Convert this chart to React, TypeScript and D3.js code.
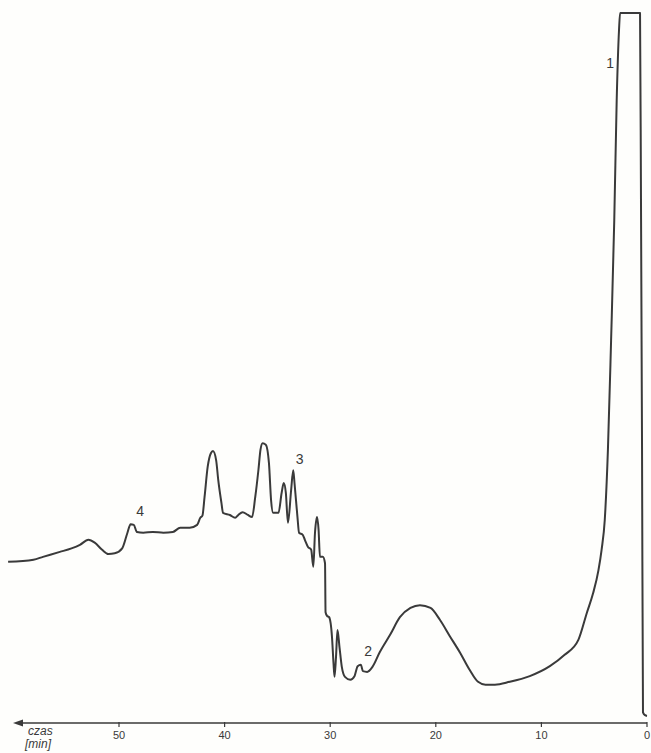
import React, { useRef, useEffect } from 'react';
import * as d3 from 'd3';

// czas retencji [min] (malejąco, od lewej do prawej)
const times = [
  60.5, 58.1, 57.2, 55.6, 54.5, 53.7, 52.9, 52.3, 51.6, 51.0, 50.4, 49.7, 49.2, 48.9, 48.6, 48.3,
  47.7, 46.8, 45.8, 44.9, 44.2, 43.3, 42.6, 42.3, 42.1, 41.9, 41.6, 41.3, 41.1, 40.8, 40.6, 40.3,
  40.15, 39.5, 39.0, 38.7, 38.3, 37.8, 37.4, 37.1, 36.8, 36.6, 36.4, 36.1, 35.8, 35.6, 35.4, 34.9,
  34.6, 34.4, 34.2, 34.0, 33.7, 33.5, 33.38, 33.1, 32.95, 32.6, 32.4, 32.1, 31.8, 31.6, 31.44, 31.25,
  31.1, 30.97, 30.7, 30.49, 30.44, 30.3, 30.1, 29.83, 29.69, 29.59, 29.45, 29.31, 29.12, 28.9, 28.6, 28.1,
  27.7, 27.4, 27.1, 26.9, 26.5, 26.0, 25.3, 24.3, 23.4, 22.4, 21.5, 20.5, 19.6, 18.7, 17.7, 16.8,
  16.0, 15.3, 14.4, 13.0, 11.1, 9.2, 7.8, 6.5, 5.7, 5.1, 4.6, 4.3, 4.0, 3.7, 3.4, 3.1,
  2.87, 2.65, 2.55, 0.66, 0.57, 0.47, 0.38, 0.19, 0.0,
];

// sygnał detektora [j.u.]
const signal = [
  22.7, 23.0, 23.4, 24.1, 24.6, 25.1, 25.8, 25.4, 24.4, 23.8, 23.9, 24.6, 26.8, 28.0, 27.9, 26.9,
  26.8, 26.9, 26.8, 26.9, 27.5, 27.5, 27.9, 28.9, 29.2, 31.8, 36.1, 38.0, 38.3, 37.0, 34.2, 31.0,
  29.6, 29.3, 28.9, 29.3, 29.7, 29.3, 29.0, 31.8, 35.6, 38.5, 39.4, 39.2, 36.6, 31.4, 29.6, 29.6,
  32.4, 33.8, 32.4, 28.2, 32.8, 35.6, 33.8, 29.0, 26.8, 26.5, 25.8, 24.8, 24.4, 22.0, 26.8, 29.0,
  27.2, 23.4, 23.4, 22.5, 15.6, 15.1, 14.9, 12.1, 8.5, 6.5, 9.3, 13.1, 10.7, 7.9, 6.5, 6.1,
  6.6, 8.0, 8.2, 7.3, 7.2, 7.9, 10.0, 12.5, 14.9, 16.2, 16.6, 16.2, 14.5, 12.3, 9.9, 7.5,
  5.8, 5.4, 5.4, 5.8, 6.6, 8.0, 9.6, 11.7, 15.5, 18.3, 21.5, 24.4, 28.6, 38.5, 53.9, 70.8,
  87.7, 97.6, 100, 100, 73.7, 38.5, 1.5, 1.1, 1.0,
];

const tickValues = [50, 40, 30, 20, 10, 0];

const peakLabels = [
  { label: '1', t: 3.5, s: 92.2 },
  { label: '2', t: 26.4, s: 9.4 },
  { label: '3', t: 32.9, s: 36.5 },
  { label: '4', t: 48.0, s: 29.2 },
];

const Chromatogram = () => {
  const ref = useRef<HTMLDivElement>(null);

  useEffect(() => {
    if (!ref.current) return;
    d3.select(ref.current).selectAll('*').remove();

    const width = 651;
    const height = 753;
    const axisY = 723;

    const svg = d3.select(ref.current)
      .append('svg')
        .attr('width', width)
        .attr('height', height)
        .style('position', 'absolute')
        .style('left', 0)
        .style('top', 0)
        .style('background', '#fefefc');

    const x = d3.scaleLinear().domain([0, 50]).range([647, 119]);
    const y = d3.scaleLinear().domain([0, 100]).range([axisY, 13]);

    const data = times.map((t, i) => ({ t, s: signal[i] }));

    const line = d3.line<{ t: number; s: number }>()
      .x(d => x(d.t))
      .y(d => y(d.s))
      .curve(d3.curveMonotoneX);

    svg.append('path')
      .datum(data)
      .attr('d', line)
      .attr('fill', 'none')
      .attr('stroke', '#3a3a3a')
      .attr('stroke-width', 2)
      .attr('stroke-linejoin', 'round');

    // oś czasu
    svg.append('line')
      .attr('x1', 18).attr('x2', x(0))
      .attr('y1', axisY).attr('y2', axisY)
      .attr('stroke', '#3a3a3a')
      .attr('stroke-width', 1.5);

    svg.append('path')
      .attr('d', `M13,${axisY} L23,${axisY - 3.5} L23,${axisY + 3.5} Z`)
      .attr('fill', '#3a3a3a');

    const ticks = svg.selectAll('g.tick')
      .data(tickValues)
      .join('g')
        .attr('class', 'tick')
        .attr('transform', d => `translate(${x(d)},${axisY})`);

    ticks.append('line')
      .attr('y1', -1).attr('y2', 4)
      .attr('stroke', '#3a3a3a')
      .attr('stroke-width', 1.2);

    ticks.append('text')
      .attr('y', 16)
      .attr('text-anchor', 'middle')
      .style('font-family', '"Liberation Sans Narrow", "Liberation Sans", sans-serif')
      .style('font-size', '11px')
      .attr('fill', '#3a3a3a')
      .text(d => d);

    svg.append('text')
      .attr('x', 28).attr('y', 735)
      .style('font-family', '"Liberation Sans", sans-serif')
      .style('font-size', '12px')
      .style('font-style', 'italic')
      .attr('fill', '#3a3a3a')
      .text('czas');

    svg.append('text')
      .attr('x', 25).attr('y', 748)
      .style('font-family', '"Liberation Sans", sans-serif')
      .style('font-size', '12px')
      .style('font-style', 'italic')
      .attr('fill', '#3a3a3a')
      .text('[min]');

    svg.selectAll('text.peak')
      .data(peakLabels)
      .join('text')
        .attr('class', 'peak')
        .attr('x', d => x(d.t))
        .attr('y', d => y(d.s))
        .attr('text-anchor', 'middle')
        .style('font-family', '"Liberation Sans", sans-serif')
        .style('font-size', '14px')
        .attr('fill', '#3a3a3a')
        .text(d => d.label);
  }, []);

  return <div ref={ref} />;
};

export default function App() {
  return <Chromatogram />;
}
